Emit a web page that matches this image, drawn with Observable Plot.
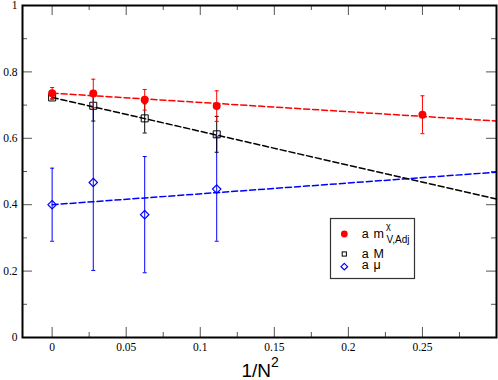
<!DOCTYPE html>
<html><head><meta charset="utf-8">
<script src="https://cdn.jsdelivr.net/npm/d3@7"></script>
<script src="https://cdn.jsdelivr.net/npm/@observablehq/plot@0.6"></script>
<style>body{margin:0;background:#fff} svg{display:block}</style>
</head><body><div id="chart"></div>
<script>
// 1/N^2 for N = infinity, 6, 4, 3, 2
const xAdj = [0, 1/36, 1/16, 1/9, 1/4];
const mVAdj = [0.736, 0.735, 0.716, 0.697, 0.671];
const mVAdjErr = [0.017, 0.043, 0.031, 0.046, 0.057];
const xM = [0, 1/36, 1/16, 1/9];
const M = [0.723, 0.698, 0.660, 0.612];
const MErr = [0.005, 0.046, 0.044, 0.054];
const xMu = [0, 1/36, 1/16, 1/9];
const mu = [0.400, 0.467, 0.370, 0.447];
const muErr = [0.110, 0.265, 0.175, 0.157];
// dashed fit lines (endpoints)
const fitX = [0, 0.3];
const fitMVAdj = [0.736, 0.652];
const fitM = [0.723, 0.417];
const fitMu = [0.400, 0.498];
// ticks
const xTicks = [0, 0.05, 0.1, 0.15, 0.2, 0.25];
const xTickLabels = ["0", "0.05", "0.1", "0.15", "0.2", "0.25"];
const xMinor = [0.025, 0.075, 0.125, 0.175, 0.225, 0.275];
const yTicks = [0, 0.2, 0.4, 0.6, 0.8, 1];
const yTickLabels = ["0", "0.2", "0.4", "0.6", "0.8", "1"];
const yMinor = [0.1, 0.3, 0.5, 0.7, 0.9];

const W = 498, H = 380, mt = 5, mb = 43, ml = 22, mr = 2;
const ph = H - mt - mb, pw = W - ml - mr;
const RED = "#ff0000", BLUE = "#0000ff", BLACK = "#000000";

const pts = (xs, ys, es) => xs.map((x, i) => ({x, y: ys[i], lo: ys[i] - es[i], hi: ys[i] + es[i]}));
const fit = (ys) => fitX.map((x, i) => ({x, y: ys[i]}));
const dAdj = pts(xAdj, mVAdj, mVAdjErr);
const dM = pts(xM, M, MErr);
const dMu = pts(xMu, mu, muErr);

const cap = {draw(ctx) { ctx.moveTo(-2, 0); ctx.lineTo(2, 0); }};
const square = {draw(ctx) { const s = 3.5; ctx.moveTo(-s, -s); ctx.lineTo(s, -s); ctx.lineTo(s, s); ctx.lineTo(-s, s); ctx.closePath(); }};
const diamond = {draw(ctx) { const s = 4.2; ctx.moveTo(0, -s); ctx.lineTo(s, 0); ctx.lineTo(0, s); ctx.lineTo(-s, 0); ctx.closePath(); }};

function errMarks(d, color) {
  return [
    Plot.ruleX(d, {x: "x", y1: "lo", y2: "hi", stroke: color, strokeWidth: 1}),
    Plot.dot(d, {x: "x", y: "hi", symbol: cap, stroke: color, strokeWidth: 1}),
    Plot.dot(d, {x: "x", y: "lo", symbol: cap, stroke: color, strokeWidth: 1})
  ];
}

const tickStroke = "#555";
const svg = Plot.plot({
  width: W, height: H,
  marginTop: mt, marginBottom: mb, marginLeft: ml, marginRight: mr,
  x: {domain: [-0.02, 0.3], axis: null},
  y: {domain: [0, 1], axis: null},
  style: {background: "#fff"},
  marks: [
    // ticks (inward, mirrored)
    Plot.tickX(xTicks, {x: d => d, insetTop: ph - 10, stroke: tickStroke}),
    Plot.tickX(xTicks, {x: d => d, insetBottom: ph - 10, stroke: tickStroke}),
    Plot.tickX(xMinor, {x: d => d, insetTop: ph - 5, stroke: tickStroke}),
    Plot.tickX(xMinor, {x: d => d, insetBottom: ph - 5, stroke: tickStroke}),
    Plot.tickY(yTicks, {y: d => d, insetRight: pw - 10, stroke: tickStroke}),
    Plot.tickY(yTicks, {y: d => d, insetLeft: pw - 10, stroke: tickStroke}),
    Plot.tickY(yMinor, {y: d => d, insetRight: pw - 5, stroke: tickStroke}),
    Plot.tickY(yMinor, {y: d => d, insetLeft: pw - 5, stroke: tickStroke}),
    // tick labels
    Plot.text(xTicks, {x: d => d, text: (d, i) => xTickLabels[i], frameAnchor: "bottom", dy: 9.5, lineAnchor: "middle",
      fontFamily: "Liberation Serif", fontSize: 11.5, fill: BLACK}),
    Plot.text(yTicks, {y: d => d, text: (d, i) => yTickLabels[i], frameAnchor: "left", dx: -5, textAnchor: "end", lineAnchor: "middle",
      fontFamily: "Liberation Serif", fontSize: 11.5, fill: BLACK}),
    // fit lines
    Plot.line(fit(fitMu), {x: "x", y: "y", stroke: BLUE, strokeWidth: 1.5, strokeDasharray: "6,3"}),
    Plot.line(fit(fitM), {x: "x", y: "y", stroke: BLACK, strokeWidth: 1.5, strokeDasharray: "6,3"}),
    Plot.line(fit(fitMVAdj), {x: "x", y: "y", stroke: RED, strokeWidth: 1.5, strokeDasharray: "6,3"}),
    // data
    ...errMarks(dMu, BLUE),
    Plot.dot(dMu, {x: "x", y: "y", symbol: diamond, stroke: BLUE, strokeWidth: 1.2, fill: "none"}),
    ...errMarks(dM, BLACK),
    Plot.dot(dM, {x: "x", y: "y", symbol: square, stroke: BLACK, strokeWidth: 1, fill: "none"}),
    ...errMarks(dAdj, RED),
    Plot.dot(dAdj, {x: "x", y: "y", r: 4, fill: RED, stroke: "none"}),
    Plot.frame({stroke: BLACK, strokeWidth: 2})
  ]
});

const s = d3.select(svg);
// axis title 1/N^2
const t = s.append("text").attr("x", 241.5).attr("y", 376.5).attr("text-anchor", "start")
  .attr("font-family", "Liberation Sans").attr("font-size", 19).attr("fill", BLACK);
t.append("tspan").text("1/N");
t.append("tspan").attr("font-size", 14).attr("dy", -10).text("2");

// legend
const g = s.append("g").attr("font-family", "Liberation Sans").attr("fill", BLACK).attr("text-anchor", "start");
g.append("rect").attr("x", 330.5).attr("y", 218.5).attr("width", 84).attr("height", 60)
  .attr("fill", "#fff").attr("stroke", "#333").attr("stroke-width", 1.2);
g.append("circle").attr("cx", 344.3).attr("cy", 234).attr("r", 3.4).attr("fill", RED);
g.append("text").attr("x", 361.7).attr("y", 238).attr("font-size", 12.5).attr("letter-spacing", 0.7).text("a m");
g.append("text").attr("x", 386).attr("y", 229).attr("font-size", 9).text("χ");
g.append("text").attr("x", 386.5).attr("y", 242.5).attr("font-size", 10).text("V,Adj");
g.append("rect").attr("x", 342.2).attr("y", 251.9).attr("width", 4.2).attr("height", 4.2)
  .attr("fill", "none").attr("stroke", BLACK).attr("stroke-width", 1);
g.append("text").attr("x", 361.7).attr("y", 258.3).attr("font-size", 12.5).attr("letter-spacing", 0.7).text("a M");
g.append("path").attr("d", "M344.3,263.4L347.6,266.7L344.3,270L341,266.7Z")
  .attr("fill", "none").attr("stroke", BLUE).attr("stroke-width", 1.2);
g.append("text").attr("x", 361.7).attr("y", 269).attr("font-size", 12.5).attr("letter-spacing", 0.7).text("a μ");

document.getElementById("chart").appendChild(svg);
</script>
</body></html>
